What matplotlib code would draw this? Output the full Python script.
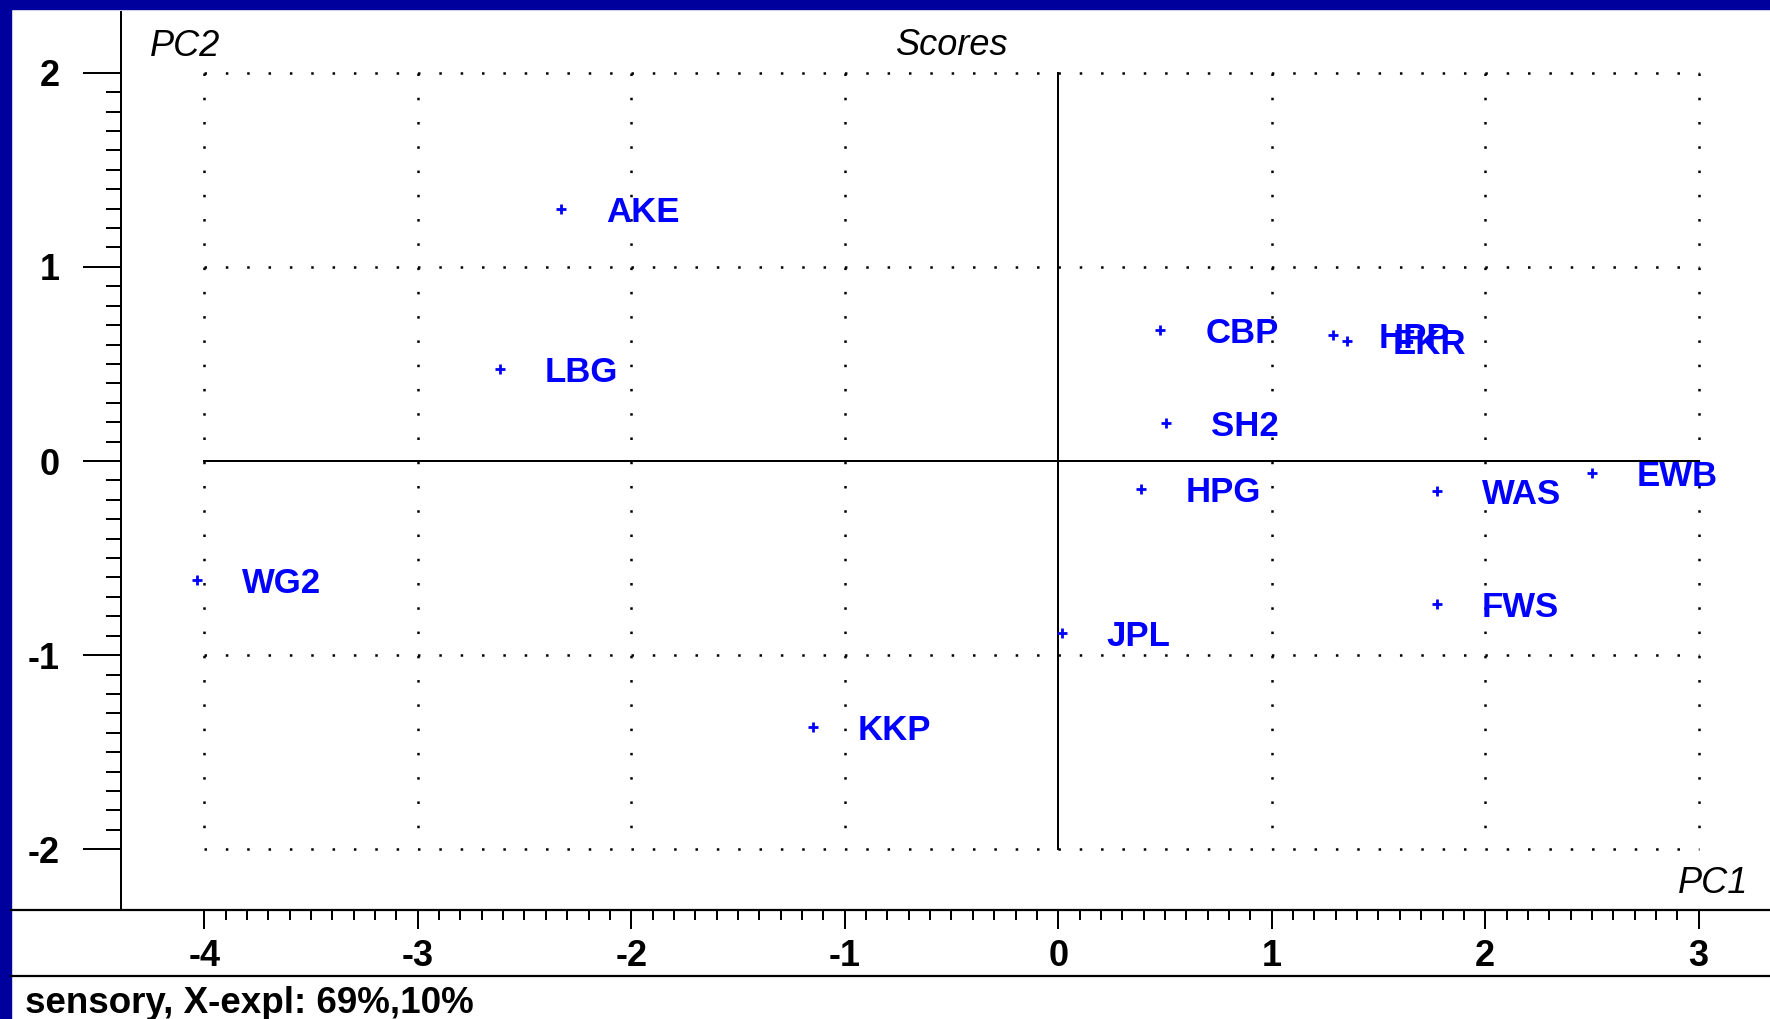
import matplotlib
matplotlib.use("Agg")
import matplotlib.pyplot as plt
from matplotlib.lines import Line2D
from matplotlib.patches import Rectangle
import numpy as np

plt.rcParams['font.family'] = ['Liberation Sans', 'DejaVu Sans']
plt.rcParams['axes.unicode_minus'] = False
plt.rcParams['lines.scale_dashes'] = False

# PCA scores, sensory data
samples = ['AKE', 'LBG', 'WG2', 'KKP', 'JPL', 'CBP', 'SH2',
           'HPG', 'HPP', 'EKR', 'WAS', 'FWS', 'EWB']
pc1 = [-2.330, -2.615, -4.035, -1.150, 0.017, 0.478, 0.504,
       0.388, 1.288, 1.354, 1.774, 1.774, 2.500]
pc2 = [1.298, 0.473, -0.611, -1.370, -0.888, 0.677, 0.194,
       -0.143, 0.647, 0.617, -0.155, -0.736, -0.062]

x_major = [-4, -3, -2, -1, 0, 1, 2, 3]
y_major = [-2, -1, 0, 1, 2]

W, H = 1770, 1019
blue = '#0000ff'
frame = '#00009c'

fig = plt.figure(figsize=(W / 100, H / 100), dpi=100)
fig.patch.set_facecolor('white')

def fx(px):
    return px / W

def fy(py):
    return 1 - py / H

# window frame (top and left bands)
fig.add_artist(Rectangle((0, fy(9)), 1, 9 / H, transform=fig.transFigure,
                         color=frame, zorder=0))
fig.add_artist(Rectangle((0, 0), 11 / W, 1, transform=fig.transFigure,
                         color=frame, zorder=0))

ax = fig.add_axes([fx(121), fy(910), 1 - fx(121), (910 - 12) / H])
ax.set_xlim(-4.390, 3.334)
ax.set_ylim(-2.3126, 2.3126)
for s in ['top', 'right', 'bottom']:
    ax.spines[s].set_visible(False)
ax.spines['left'].set_linewidth(1.44)

ax.set_xticks(x_major, labels=[str(v) for v in x_major], fontweight='bold')
ax.set_xticks(np.arange(-40, 31) / 10, minor=True)
ax.set_yticks(y_major, labels=[str(v) for v in y_major], fontweight='bold')
ax.set_yticks(np.arange(-20, 21) / 10, minor=True)
ax.tick_params(axis='x', which='major', length=13.7, width=1.44, pad=7, labelsize=26)
ax.tick_params(axis='x', which='minor', length=7.2, width=1.44)
ax.tick_params(axis='y', which='major', length=27.4, width=1.44, pad=16.6, labelsize=26)
ax.tick_params(axis='y', which='minor', length=10.8, width=1.44)

# dotted grid
for x in x_major:
    if x != 0:
        ax.plot([x, x], [2, -2], color='k', lw=1.8, ls=(0, (1.8, 15.67)))
for y in y_major:
    if y != 0:
        ax.plot([-4, 3], [y, y], color='k', lw=1.8, ls=(0, (1.8, 13.57)))
ax.plot([-4, 3], [0, 0], color='k', lw=1.44)
ax.plot([0, 0], [2, -2], color='k', lw=1.44)

ax.plot(pc1, pc2, ls='none', marker='+', ms=6.5, mew=2, color=blue)
for name, x, y in zip(samples, pc1, pc2):
    ax.annotate(name, (x, y), xytext=(32.4, -9.4), textcoords='offset points',
                color=blue, fontsize=25, fontweight='bold', va='baseline', ha='left')

# x axis line and separator across the window
fig.add_artist(Line2D([fx(11), 1], [fy(910), fy(910)], color='k', lw=1.6))
fig.add_artist(Line2D([fx(11), 1], [fy(976), fy(976)], color='k', lw=1.6))

fig.text(fx(150), fy(56), 'PC2', style='italic', fontsize=26, va='baseline', ha='left')
fig.text(fx(952), fy(55), 'Scores', style='italic', fontsize=26, va='baseline', ha='center')
fig.text(fx(1748), fy(893), 'PC1', style='italic', fontsize=26, va='baseline', ha='right')
fig.text(fx(25), fy(1013), 'sensory, X-expl: 69%,10%', fontweight='bold',
         fontsize=26.5, va='baseline', ha='left')

fig.savefig('out.png', dpi=100)
